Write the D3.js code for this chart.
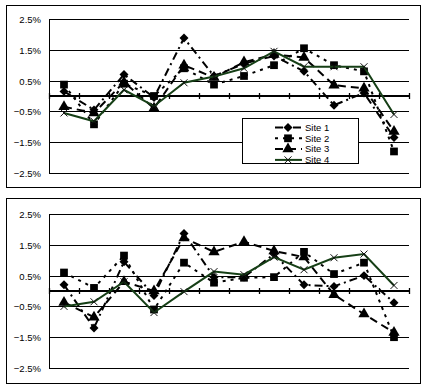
<!DOCTYPE html>
<html>
<head>
<meta charset="utf-8">
<script src="https://cdn.jsdelivr.net/npm/d3@7"></script>
<style>
  body { margin: 0; background: #fff; }
  svg { display: block; font-family: "Liberation Sans", Arial, sans-serif; }
</style>
</head>
<body>
<div id="chart"></div>
<script>
// 12 periods, no labels shown on the x axis
const periods = ["1", "2", "3", "4", "5", "6", "7", "8", "9", "10", "11", "12"];
const tickValues = [-2.5, -1.5, -0.5, 0.5, 1.5, 2.5];
const seriesNames = ["Site 1", "Site 2", "Site 3", "Site 4"];

// upper chart (%)
const site1Top = [0.15, -0.45, 0.7, -0.05, 1.88, 0.65, 1.05, 1.3, 0.8, -0.3, 0.1, -1.35];
const site2Top = [0.37, -0.92, 0.4, 0.0, 0.9, 0.37, 0.65, 1.0, 1.55, 1.0, 0.8, -1.8];
const site3Top = [-0.35, -0.55, 0.45, -0.4, 1.0, 0.6, 1.1, 1.35, 1.25, 0.35, 0.25, -1.15];
const site4Top = [-0.55, -0.82, 0.2, -0.33, 0.43, 0.63, 0.9, 1.45, 0.95, 0.95, 0.95, -0.6];

// lower chart (%)
const site1Bot = [0.2, -1.2, 0.95, -0.15, 1.87, 0.45, 0.45, 1.2, 0.2, 0.15, 0.5, -0.38];
const site2Bot = [0.6, 0.1, 1.15, -0.6, 0.92, 0.27, 0.43, 0.45, 1.27, 0.55, 0.92, -1.5];
const site3Bot = [-0.37, -0.85, 0.3, 0.0, 1.72, 1.27, 1.6, 1.3, 1.1, -0.12, -0.75, -1.35];
const site4Bot = [-0.5, -0.35, 0.3, -0.7, -0.02, 0.63, 0.53, 1.1, 0.69, 1.08, 1.2, 0.18];

const styles = [
  { stroke: "#000", dash: "8,4,2,4", marker: "diamond" },
  { stroke: "#000", dash: "3,5", marker: "square" },
  { stroke: "#000", dash: "8,5", marker: "triangle" },
  { stroke: "#163f16", dash: null, marker: "x" }
];

const svg = d3.select("#chart").append("svg")
  .attr("width", 427)
  .attr("height", 390);

function marker(g, type, x, y) {
  if (type === "x") {
    const s = 3.5;
    g.append("path")
      .attr("d", `M${x - s},${y - s}L${x + s},${y + s}M${x - s},${y + s}L${x + s},${y - s}`)
      .attr("stroke", "#111")
      .attr("stroke-width", 1)
      .attr("fill", "none");
    return;
  }
  const sym = type === "triangle" ? d3.symbolTriangle : d3.symbolSquare;
  const size = type === "diamond" ? 40 : type === "square" ? 60 : 55;
  const rot = type === "diamond" ? " rotate(45)" : "";
  g.append("path")
    .attr("d", d3.symbol(sym, size)())
    .attr("transform", `translate(${x},${y})${rot}`)
    .attr("fill", "#000");
}

function drawPanel(box, plotTop, plotBottom, data, withLegend) {
  const left = 49, right = 409;

  svg.append("rect")
    .attr("x", box.x + 0.5).attr("y", box.y + 0.5)
    .attr("width", box.w).attr("height", box.h)
    .attr("fill", "#fff").attr("stroke", "#000");

  const x = d3.scaleBand().domain(periods).range([left, right]);
  const y = d3.scaleLinear().domain([-2.5, 2.5]).range([plotBottom, plotTop]);

  const g = svg.append("g");

  // gridlines and tick labels
  tickValues.forEach(v => {
    const yy = Math.round(y(v)) + 0.5;
    g.append("line")
      .attr("x1", left).attr("x2", right)
      .attr("y1", yy).attr("y2", yy)
      .attr("stroke", "#000");
    g.append("text")
      .attr("x", 41).attr("y", yy)
      .attr("dy", "0.35em")
      .attr("text-anchor", "end")
      .attr("font-size", 9.5)
      .text(d3.format(".1f")(v) + "%");
  });

  // left axis line
  g.append("line")
    .attr("x1", left + 0.5).attr("x2", left + 0.5)
    .attr("y1", Math.round(y(2.5))).attr("y2", Math.round(y(-2.5)) + 1)
    .attr("stroke", "#000");

  // zero axis with category ticks
  const y0 = Math.round(y(0));
  g.append("line")
    .attr("x1", left).attr("x2", right)
    .attr("y1", y0).attr("y2", y0)
    .attr("stroke", "#000").attr("stroke-width", 2.2);
  periods.concat(["end"]).forEach((p, i) => {
    const xx = Math.round(left + i * x.bandwidth()) + 0.5;
    g.append("line")
      .attr("x1", xx).attr("x2", xx)
      .attr("y1", y0 - 3).attr("y2", y0 + 3)
      .attr("stroke", "#000").attr("stroke-width", 1.3);
  });

  const line = d3.line()
    .x((d, i) => x(periods[i]) + x.bandwidth() / 2)
    .y(d => y(d));

  data.forEach((vals, k) => {
    const st = styles[k];
    g.append("path")
      .attr("d", line(vals))
      .attr("fill", "none")
      .attr("stroke", st.stroke)
      .attr("stroke-width", 2)
      .attr("stroke-dasharray", st.dash);
    vals.forEach((v, i) => marker(g, st.marker, x(periods[i]) + x.bandwidth() / 2, y(v)));
  });

  if (withLegend) {
    const lg = svg.append("g");
    lg.append("rect")
      .attr("x", 242.5).attr("y", 118.5)
      .attr("width", 116).attr("height", 45)
      .attr("fill", "#fff").attr("stroke", "#000");
    seriesNames.forEach((name, k) => {
      const st = styles[k];
      const ly = 127.5 + k * 10.8;
      lg.append("line")
        .attr("x1", 275).attr("x2", 302)
        .attr("y1", ly).attr("y2", ly)
        .attr("stroke", st.stroke)
        .attr("stroke-width", 2)
        .attr("stroke-dasharray", st.dash);
      marker(lg, st.marker, 288, ly);
      lg.append("text")
        .attr("x", 305).attr("y", ly)
        .attr("dy", "0.35em")
        .attr("font-size", 9.5)
        .text(name);
    });
  }
}

drawPanel({ x: 6, y: 5, w: 414, h: 182 }, 19, 173,
  [site1Top, site2Top, site3Top, site4Top], true);
drawPanel({ x: 6, y: 198, w: 414, h: 185 }, 214, 368,
  [site1Bot, site2Bot, site3Bot, site4Bot], false);
</script>
</body>
</html>
